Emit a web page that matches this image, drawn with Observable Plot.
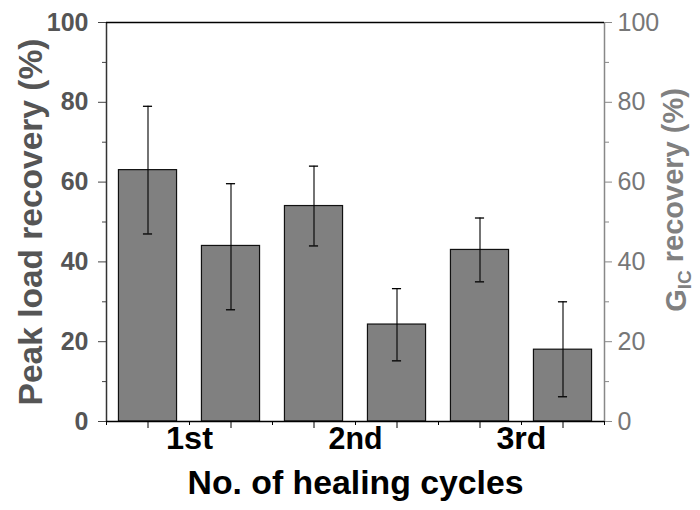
<!DOCTYPE html>
<html>
<head>
<meta charset="utf-8">
<script src="https://cdn.jsdelivr.net/npm/d3@7"></script>
<script src="https://cdn.jsdelivr.net/npm/@observablehq/plot@0.6"></script>
<style>
  html, body { margin: 0; padding: 0; background: #fff; }
</style>
</head>
<body>
<div id="chart"></div>
<script>
// ---- data ----
const cycles = ["1st", "2nd", "3rd"];
const peakLoad = [63, 54, 43];        // Peak load recovery (%)
const peakLoadLow = [47, 44, 35];
const peakLoadHigh = [79, 64, 51];
const gic = [44, 24.3, 18];           // G_IC recovery (%)
const gicLow = [28, 15.2, 6.2];
const gicHigh = [59.6, 33.3, 30];
const yMajorTicks = [0, 20, 40, 60, 80, 100];
const yMinorTicks = [10, 30, 50, 70, 90];
const leftTitle = "Peak load recovery (%)";
const rightTitle = "GIC recovery (%)";
const xTitle = "No. of healing cycles";

// slot positions on a 0..12 linear axis: peak bar at 4i+1, G_IC bar at 4i+3
const rows = [];
cycles.forEach((c, i) => {
  rows.push({cycle: c, pos: 4 * i + 1, value: peakLoad[i], lo: peakLoadLow[i], hi: peakLoadHigh[i]});
  rows.push({cycle: c, pos: 4 * i + 3, value: gic[i], lo: gicLow[i], hi: gicHigh[i]});
});
const slotTicksMajor = rows.map(d => d.pos);
const slotTicksMinor = d3.range(0, 13, 2);
const labelPos = cycles.map((c, i) => ({c, x: 4 * i + 2}));

const halfBar = 0.7, halfCap = 0.11;
const FONT = "'Liberation Sans', Arial, Helvetica, sans-serif";

const chart = Plot.plot({
  width: 700,
  height: 510,
  marginLeft: 106,
  marginRight: 96,
  marginTop: 22,
  marginBottom: 89,
  style: {fontFamily: FONT, background: "#fff", overflow: "visible"},
  x: {domain: [0, 12], axis: null},
  y: {domain: [0, 100], axis: null},
  marks: [
    // bars
    Plot.rect(rows, {x1: d => d.pos - halfBar, x2: d => d.pos + halfBar, y1: 0, y2: "value",
      fill: "#808080", stroke: "#111", strokeWidth: 1.2}),
    // error bars
    Plot.ruleX(rows, {x: "pos", y1: "lo", y2: "hi", stroke: "#000", strokeWidth: 1.1}),
    Plot.ruleY(rows, {y: "hi", x1: d => d.pos - halfCap, x2: d => d.pos + halfCap, stroke: "#000", strokeWidth: 1.3}),
    Plot.ruleY(rows, {y: "lo", x1: d => d.pos - halfCap, x2: d => d.pos + halfCap, stroke: "#000", strokeWidth: 1.3}),
    // left axis
    Plot.axisY({anchor: "left", ticks: yMajorTicks, tickSize: 8, tickPadding: 10, fontSize: 25,
      fontWeight: "bold", color: "#555", stroke: "#444", label: null}),
    Plot.axisY({anchor: "left", ticks: yMinorTicks, tickSize: 4, tickFormat: () => "", stroke: "#444", label: null}),
    // right axis
    Plot.axisY({anchor: "right", ticks: yMajorTicks, tickSize: 7, tickPadding: 6, fontSize: 25,
      color: "#777", stroke: "#888", label: null}),
    Plot.axisY({anchor: "right", ticks: yMinorTicks, tickSize: 4, tickFormat: () => "", stroke: "#888", label: null}),
    // bottom axis ticks
    Plot.axisX({ticks: slotTicksMajor, tickSize: 7, tickFormat: () => "", stroke: "#000", label: null}),
    Plot.axisX({ticks: slotTicksMinor, tickSize: 4, tickFormat: () => "", stroke: "#000", label: null}),
    // axis lines / frame
    Plot.ruleX([0], {stroke: "#333", strokeWidth: 1.5}),
    Plot.ruleX([12], {stroke: "#888", strokeWidth: 1.5}),
    Plot.ruleY([0], {stroke: "#000", strokeWidth: 1.5}),
    Plot.ruleY([100], {stroke: "#000", strokeWidth: 1.5}),
    // category labels
    Plot.text(labelPos, {x: "x", text: "c", frameAnchor: "bottom", dy: 27, fontSize: 32,
      fontWeight: "bold", fill: "#000"}),
    // titles
    Plot.text([xTitle], {frameAnchor: "bottom", dy: 72, fontSize: 34, fontWeight: "bold", fill: "#000"}),
    Plot.text([leftTitle], {frameAnchor: "left", textAnchor: "middle", dx: -75, dy: 0, rotate: -90,
      fontSize: 33.5, fontWeight: "bold", fill: "#555"}),
    Plot.text([rightTitle], {frameAnchor: "right", textAnchor: "middle", dx: 72, dy: -22, rotate: -90,
      fontSize: 29, fontWeight: "bold", fill: "#808080"})
  ]
});

const svg = d3.select(chart);
// subscript "IC" in the right-hand title; fixed widths for the bottom texts
svg.selectAll("text").each(function() {
  const s = this.textContent;
  const t = d3.select(this);
  if (s === rightTitle) {
    t.text(null);
    t.append("tspan").text("G");
    t.append("tspan").attr("font-size", 19).attr("dy", "0.3em").text("IC");
    t.append("tspan").attr("dy", "-0.3em").text(" recovery (%)");
  } else if (s === xTitle) {
    t.attr("textLength", 336).attr("lengthAdjust", "spacingAndGlyphs");
  } else if (s === "1st") {
    t.attr("textLength", 47).attr("lengthAdjust", "spacingAndGlyphs");
  } else if (s === "2nd") {
    t.attr("textLength", 54).attr("lengthAdjust", "spacingAndGlyphs");
  } else if (s === "3rd") {
    t.attr("textLength", 50).attr("lengthAdjust", "spacingAndGlyphs");
  }
});

document.getElementById("chart").appendChild(chart);
</script>
</body>
</html>
